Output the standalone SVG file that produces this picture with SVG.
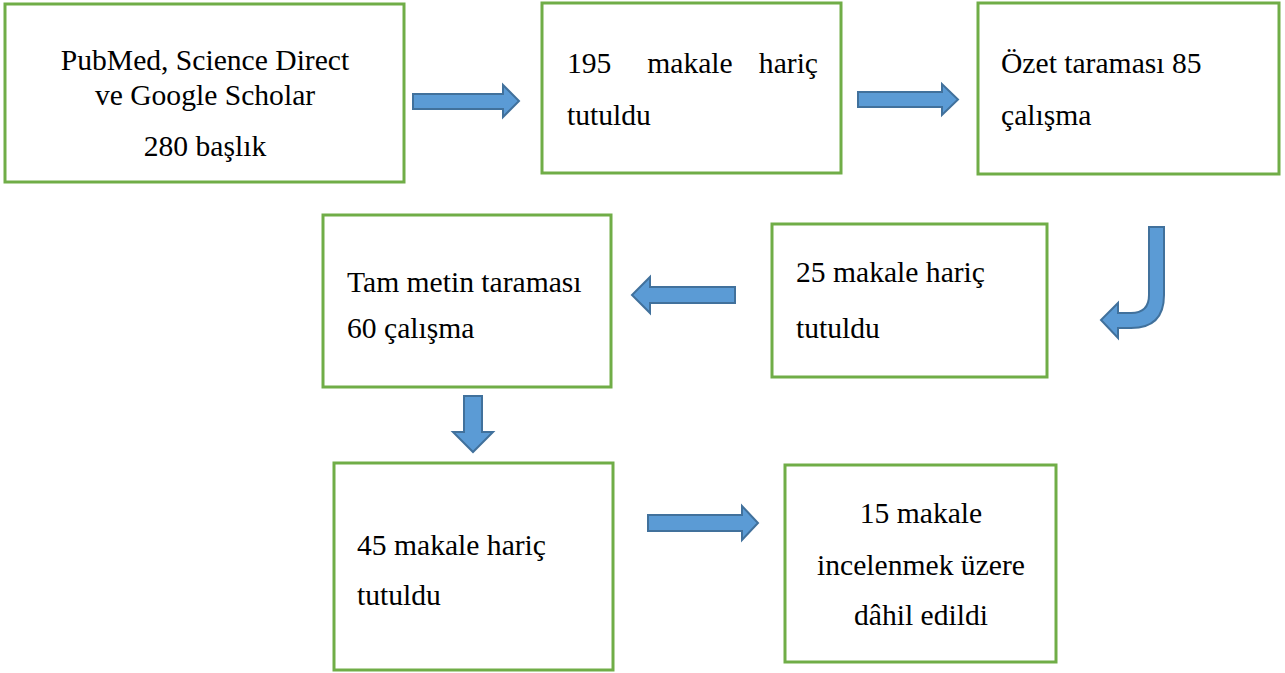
<svg xmlns="http://www.w3.org/2000/svg" width="1285" height="673" viewBox="0 0 1285 673">
<style>
.box{fill:#fff;stroke:#70AD47;stroke-width:3}
.arr{fill:#5B9BD5;stroke:#41719C;stroke-width:2;stroke-linejoin:miter}
.t{font-family:'Liberation Serif','Times New Roman',serif;font-size:29.6px;fill:#000}
.c{text-anchor:middle}
</style>
<rect width="1285" height="673" fill="#fff"/>
<g id="connectors">
<path class="arr" d="M413,94 L503,94 L503,85 L519,101 L503,117 L503,109 L413,109 Z"/>
<path class="arr" d="M858,92 L942,92 L942,84 L958,99.5 L942,115 L942,107 L858,107 Z"/>
<path class="arr" d="M1149,227 L1164,227 L1164,295 Q1164,328 1131,328 L1118,328 L1118,338 L1101,320 L1118,303 L1118,313 L1131,313 Q1149,313 1149,295 Z"/>
<path class="arr" d="M735,287 L650,287 L650,277 L632,295 L650,313 L650,303 L735,303 Z"/>
<path class="arr" d="M464,396 L482,396 L482,432 L493,432 L473,452 L453,432 L464,432 Z"/>
<path class="arr" d="M648,515 L742,515 L742,506 L758,523 L742,540 L742,531 L648,531 Z"/>
</g>
<g id="n1" class="t" font-family="Liberation Serif, serif">
<rect class="box" x="5" y="4" width="399" height="178"/>
<text class="c" x="205" y="70">PubMed, Science Direct</text>
<text class="c" x="205" y="105">ve Google Scholar</text>
<text class="c" x="205" y="156">280 başlık</text>
</g>
<g id="n2" class="t" font-family="Liberation Serif, serif">
<rect class="box" x="542" y="3" width="299" height="170"/>
<text x="567" y="73">195</text>
<text x="690" y="73" class="c">makale</text>
<text x="818" y="73" text-anchor="end">hariç</text>
<text x="567" y="125">tutuldu</text>
</g>
<g id="n3" class="t" font-family="Liberation Serif, serif">
<rect class="box" x="978" y="3" width="301" height="171"/>
<text x="1001" y="73">Özet taraması 85</text>
<text x="1001" y="125">çalışma</text>
</g>
<g id="n4" class="t" font-family="Liberation Serif, serif">
<rect class="box" x="323" y="215" width="288" height="172"/>
<text x="347" y="292">Tam metin taraması</text>
<text x="347" y="338">60 çalışma</text>
</g>
<g id="n5" class="t" font-family="Liberation Serif, serif">
<rect class="box" x="772" y="224" width="275" height="153"/>
<text x="796" y="282">25 makale hariç</text>
<text x="796" y="338">tutuldu</text>
</g>
<g id="n6" class="t" font-family="Liberation Serif, serif">
<rect class="box" x="334" y="463" width="279" height="207"/>
<text x="357" y="555">45 makale hariç</text>
<text x="357" y="605">tutuldu</text>
</g>
<g id="n7" class="t" font-family="Liberation Serif, serif">
<rect class="box" x="785" y="465" width="271" height="197"/>
<text class="c" x="921" y="523">15 makale</text>
<text class="c" x="921" y="575">incelenmek üzere</text>
<text class="c" x="921" y="625">dâhil edildi</text>
</g>
</svg>
